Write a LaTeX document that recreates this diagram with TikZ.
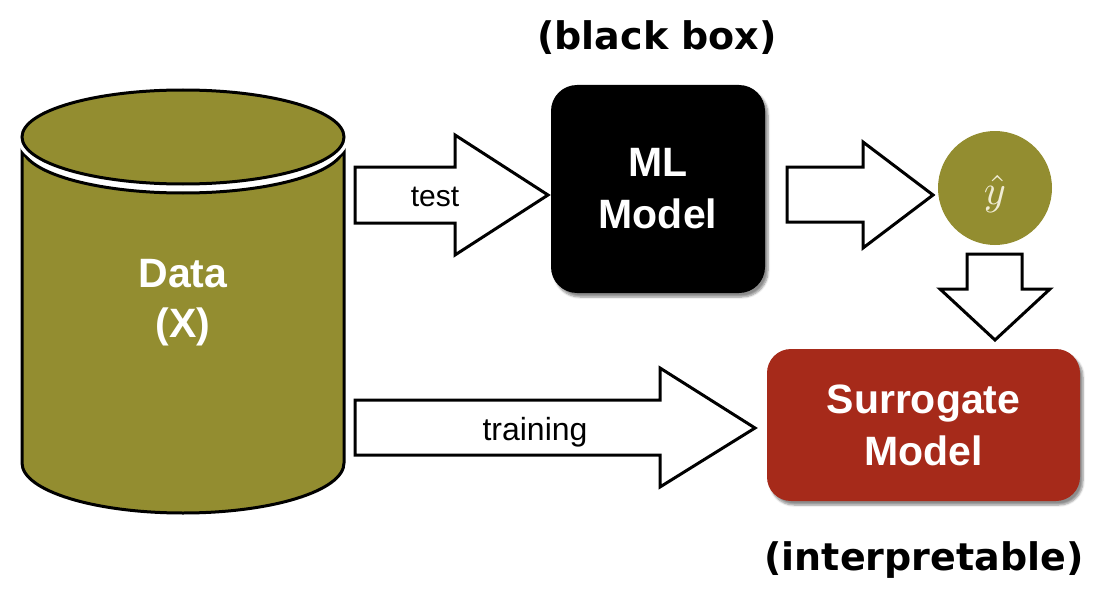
\documentclass[tikz,border=0pt]{standalone}
\usepackage{graphicx}
\usepackage{fontspec}
\setmainfont{Liberation Sans}
\newfontfamily\comicfont{DejaVu Sans}
\usetikzlibrary{shadows.blur}
\definecolor{oliveC}{RGB}{147,141,48}
\definecolor{redC}{RGB}{166,42,26}
\definecolor{hatC}{RGB}{240,236,212}
\tikzset{
  blockarrow/.style={draw=black, fill=white, line width=3pt, line join=miter},
  modelbox/.style={rectangle, rounded corners=26pt, text=white, align=center,
    font=\bfseries\fontsize{41}{52}\selectfont,
    blur shadow={shadow xshift=3pt, shadow yshift=-4pt, shadow blur steps=6, shadow opacity=45}},
  arrowlabel/.style={anchor=base, text=black, font=\fontsize{30}{36}\selectfont},
  notelabel/.style={anchor=base, text=black, font=\comicfont\bfseries\fontsize{38}{44}\selectfont},
  cyltext/.style={text=white, align=center, font=\bfseries\fontsize{41}{50}\selectfont}
}
\begin{document}
\begin{tikzpicture}[x=1pt,y=-1pt]
\useasboundingbox (0,0) rectangle (1104,602);
% cylinder body
\draw[fill=oliveC, line width=3pt, line join=round]
  (22,146) -- (22,463) arc[start angle=180, end angle=0, x radius=161, y radius=50]
  -- (344,146) arc[start angle=0, end angle=180, x radius=161, y radius=47] -- cycle;
% cylinder top
\draw[white, line width=10pt] (183,137) ellipse[x radius=161, y radius=47];
\draw[fill=oliveC, line width=3pt] (183,137) ellipse[x radius=161, y radius=47];
\node[cyltext] (data) at (183,303) {Data\\(X)};

% boxes
\node[modelbox, fill=black, minimum width=214pt, minimum height=208pt] (ml) at (658,189) {ML\\Model};
\node[modelbox, fill=redC, minimum width=313pt, minimum height=152pt, rounded corners=24pt] (sur) at (923.5,425) {Surrogate\\Model};
\node[circle, fill=oliveC, minimum size=114pt, inner sep=0pt, text=hatC] (yhat) at (995,188)
  {\raisebox{-6pt}[\height][\depth]{\scalebox{4.2}{$\hat{y}$}}};

% block arrows
\draw[blockarrow] (355,167) -- (455,167) -- (455,135) -- (548,195) -- (455,255) -- (455,223) -- (355,223) -- cycle;
\node[arrowlabel] (testlbl) at (435,206) {test};
\draw[blockarrow] (787,167) -- (863,167) -- (863,142) -- (933,195) -- (863,248) -- (863,222) -- (787,222) -- cycle;
\draw[blockarrow] (967,254) -- (1022,254) -- (1022,289) -- (1050,289) -- (995,340) -- (940,289) -- (967,289) -- cycle;
\draw[blockarrow] (355,400) -- (660,400) -- (660,368) -- (755,428) -- (660,487) -- (660,455) -- (355,455) -- cycle;
\node[arrowlabel, font=\fontsize{32}{38}\selectfont] (trainlbl) at (535,440) {training};

% notes
\node[notelabel] (bb) at (657,50) {(black box)};
\node[notelabel] (interp) at (924,570) {(interpretable)};
\end{tikzpicture}
\end{document}
